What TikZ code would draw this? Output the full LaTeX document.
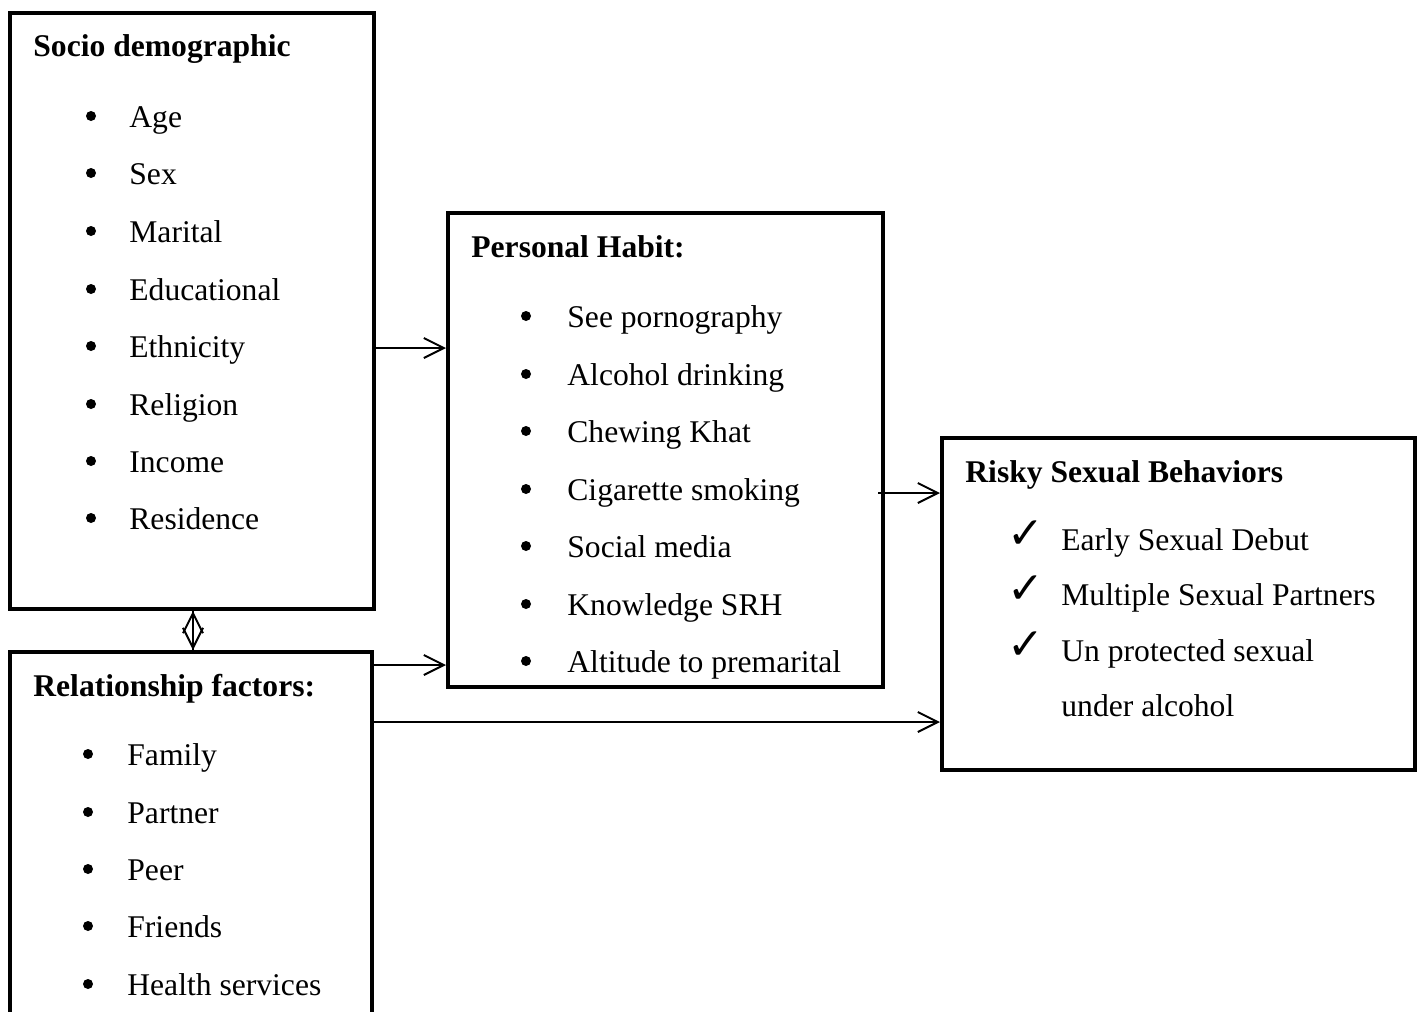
\documentclass[tikz,border=0pt]{standalone}
\usepackage{fontspec}
\setmainfont{Liberation Serif}
\newfontfamily\symfont{DejaVu Sans}
\usetikzlibrary{arrows.meta}
\tikzset{
  box/.style={draw, line width=2pt, rectangle, inner sep=0pt},
  txt/.style={anchor=base west, inner sep=0pt, font=\fontsize{15.8}{19}\selectfont},
  head/.style={txt, font=\fontsize{15.8}{19}\selectfont\bfseries},
  bul/.style={circle, fill, inner sep=0pt, minimum size=5pt},
  chk/.style={inner sep=0pt, font=\symfont\bfseries\fontsize{22}{24}\selectfont},
  conn/.style={line width=1pt, -{Straight Barb[length=10pt,width=10pt,line width=1pt]}},
  dconn/.style={line width=1pt, {Straight Barb[length=10pt,width=10pt,line width=1pt]}-{Straight Barb[length=10pt,width=10pt,line width=1pt]}}
}
\begin{document}
\begin{tikzpicture}[x=0.5pt,y=-0.5pt]
\useasboundingbox (0,0) rectangle (1421,1012);
\clip (0,0) rectangle (1421,1012);
% boxes
\node[box, minimum width=182pt, minimum height=298pt] (soc) at (192,311) {};
\node[box, minimum width=181pt, minimum height=194pt] (rel) at (191,846) {};
\node[box, minimum width=217.5pt, minimum height=237pt] (hab) at (665.5,450) {};
\node[box, minimum width=236.5pt, minimum height=166pt] (risk) at (1178.5,604) {};
% Socio demographic
\node[head] (socH) at (33,56) {Socio demographic};
\foreach \t/\y [count=\i] in {Age/116,Sex/173,Marital/231,Educational/289,Ethnicity/346,Religion/404,Income/461,Residence/518}{
  \node[bul] (socB\i) at (91,\y) {};
  \node[txt] (socT\i) at (129,\y+11) {\t};
}
% Relationship factors
\node[head] (relH) at (33,696) {Relationship factors:};
\foreach \t/\y [count=\i] in {Family/754,Partner/812,Peer/869,Friends/926,Health services/984}{
  \node[bul] (relB\i) at (88,\y) {};
  \node[txt] (relT\i) at (127,\y+11) {\t};
}
% Personal Habit
\node[head] (habH) at (471,257) {Personal Habit:};
\foreach \t/\y [count=\i] in {See pornography/316,Alcohol drinking/374,Chewing Khat/431,Cigarette smoking/489,Social media/546,Knowledge SRH/604,Altitude to premarital/661}{
  \node[bul] (habB\i) at (526,\y) {};
  \node[txt] (habT\i) at (567,\y+11) {\t};
}
% Risky Sexual Behaviors
\node[head] (riskH) at (965,482) {Risky Sexual Behaviors};
\foreach \y [count=\i] in {539,594,650}{
  \node[chk] (riskC\i) at (1026,\y-4) {✓};
}
\node[txt] (riskT1) at (1061,550) {Early Sexual Debut};
\node[txt] (riskT2) at (1061,605) {Multiple Sexual Partners};
\node[txt] (riskT3) at (1061,661) {Un protected sexual};
\node[txt] (riskT4) at (1061,716) {under alcohol};
% connectors
\coordinate (a1) at (0,348);
\coordinate (a2) at (0,665);
\coordinate (a3) at (0,493);
\coordinate (a4) at (0,722);
\coordinate (d1) at (193,0);
\coordinate (hs) at (878,0);
\draw[conn] (soc.east |- a1) -- (hab.west |- a1);
\draw[conn] (rel.east |- a2) -- (hab.west |- a2);
\draw[conn] (hs |- a3) -- (risk.west |- a3);
\draw[conn] (rel.east |- a4) -- (risk.west |- a4);
\draw[dconn] (d1 |- soc.south) -- (d1 |- rel.north);
\draw[line width=1pt] (d1 |- soc.south) -- (d1 |- rel.north);
\end{tikzpicture}
\end{document}
